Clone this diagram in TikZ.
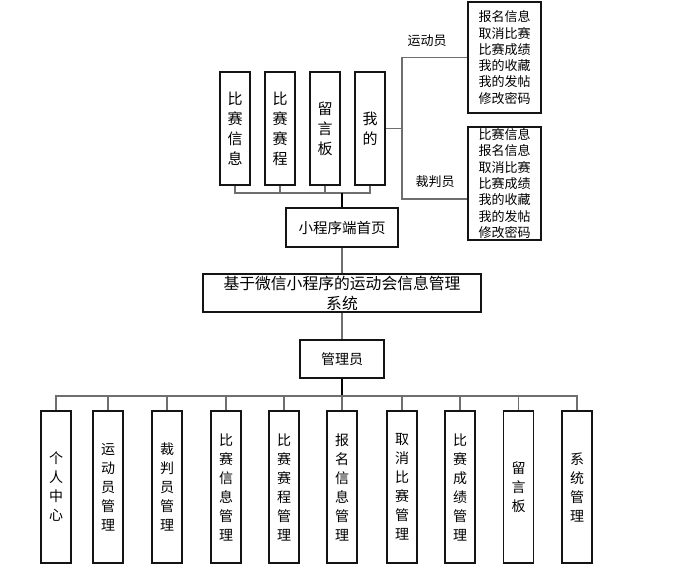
\documentclass[tikz,border=0pt]{standalone}
\usepackage{fontspec}
\setmainfont{Noto Sans CJK SC}
\usetikzlibrary{positioning,calc}
\definecolor{trait}{RGB}{110,110,110}
\definecolor{cadre}{RGB}{20,20,20}

\begin{document}
\begin{tikzpicture}[x=1pt, y=-1pt,
    boite/.style={draw=cadre, line width=1.2pt, inner sep=0pt, align=center},
    colonne/.style={boite, minimum width=30pt, minimum height=113pt, font=\fontsize{15}{20}\selectfont},
    module/.style={boite, minimum width=30pt, minimum height=152pt, font=\fontsize{14}{19}\selectfont},
    liste/.style={boite, minimum width=73pt, font=\fontsize{13}{16.3}\selectfont},
    lien/.style={draw=trait, line width=1.4pt}]

    \useasboundingbox (0,0) rectangle (676,569);

    \def\hautY{128.5}
    \def\basY{487}

    % =========================================================================
    % PAGES DU MINI-PROGRAMME
    % =========================================================================
    \node[colonne] (infos) at (235,\hautY) {比\\赛\\信\\息};
    \node[colonne] (calendrier) at (280,\hautY) {比\\赛\\赛\\程};
    \node[colonne] (forum) at (325,\hautY) {留\\言\\板};
    \node[colonne] (mine) at (370,\hautY) {我\\的};

    \node[boite, minimum width=112pt, minimum height=39pt, font=\fontsize{14.5}{18}\selectfont]
        (accueil) at (342,227.5) {小程序端首页};

    % Rôles sous "我的"
    \node[liste, minimum height=111pt] (athlete) at (504.5,57.5)
        {报名信息\\取消比赛\\比赛成绩\\我的收藏\\我的发帖\\修改密码};
    \node[liste, minimum height=113pt] (arbitre) at (504.5,183.5)
        {比赛信息\\报名信息\\取消比赛\\比赛成绩\\我的收藏\\我的发帖\\修改密码};
    \node[font=\fontsize{13}{15}\selectfont] (lblathlete) at (427,41) {运动员};
    \node[font=\fontsize{13}{15}\selectfont] (lblarbitre) at (435,182) {裁判员};

    % =========================================================================
    % SYSTÈME ET ADMINISTRATEUR
    % =========================================================================
    \node[boite, minimum width=278pt, minimum height=38pt, font=\fontsize{15.8}{20}\selectfont]
        (systeme) at (342,293) {基于微信小程序的运动会信息管理\\系统};
    \node[boite, minimum width=84pt, minimum height=38pt, font=\fontsize{14}{18}\selectfont]
        (admin) at (342,359) {管理员};

    % =========================================================================
    % MODULES DE GESTION
    % =========================================================================
    \node[module] (perso) at (56,\basY) {个\\人\\中\\心};
    \node[module] (gathlete) at (108,\basY) {运\\动\\员\\管\\理};
    \node[module] (garbitre) at (167,\basY) {裁\\判\\员\\管\\理};
    \node[module] (ginfos) at (226,\basY) {比\\赛\\信\\息\\管\\理};
    \node[module] (gcalendrier) at (284,\basY) {比\\赛\\赛\\程\\管\\理};
    \node[module] (ginscription) at (342,\basY) {报\\名\\信\\息\\管\\理};
    \node[module] (gannulation) at (402,\basY) {取\\消\\比\\赛\\管\\理};
    \node[module] (gresultats) at (460,\basY) {比\\赛\\成\\绩\\管\\理};
    \node[module] (gforum) at (518.5,\basY) {留\\言\\板};
    \node[module] (gsysteme) at (577,\basY) {系\\统\\管\\理};

    % =========================================================================
    % LIAISONS
    % =========================================================================
    \coordinate (bushaut) at (342,193);
    \coordinate (fourche) at (402,\hautY);
    \coordinate (niveauarbitre) at (0,199);
    \coordinate (busbas) at (342,396);

    \draw[lien] (infos.south) |- (bushaut);
    \draw[lien] (calendrier.south) |- (bushaut);
    \draw[lien] (forum.south) |- (bushaut);
    \draw[lien] (mine.south) |- (bushaut);
    \draw[lien, draw=black] (bushaut) -- (accueil.north);

    \draw[lien] (mine.east) -- (fourche);
    \draw[lien] (fourche) |- (athlete.west);
    \draw[lien] (fourche) |- (arbitre.west |- niveauarbitre);

    \draw[lien] (accueil.south) -- (systeme.north);
    \draw[lien] (systeme.south) -- (admin.north);
    \draw[lien, draw=black] (admin.south) -- (busbas);

    \draw[lien] (busbas) -| (perso.north);
    \draw[lien] (busbas) -| (gathlete.north);
    \draw[lien] (busbas) -| (garbitre.north);
    \draw[lien] (busbas) -| (ginfos.north);
    \draw[lien] (busbas) -| (gcalendrier.north);
    \draw[lien] (busbas) -- (ginscription.north);
    \draw[lien] (busbas) -| (gannulation.north);
    \draw[lien] (busbas) -| (gresultats.north);
    \draw[lien] (busbas) -| (gforum.north);
    \draw[lien] (busbas) -| (gsysteme.north);
\end{tikzpicture}
\end{document}
